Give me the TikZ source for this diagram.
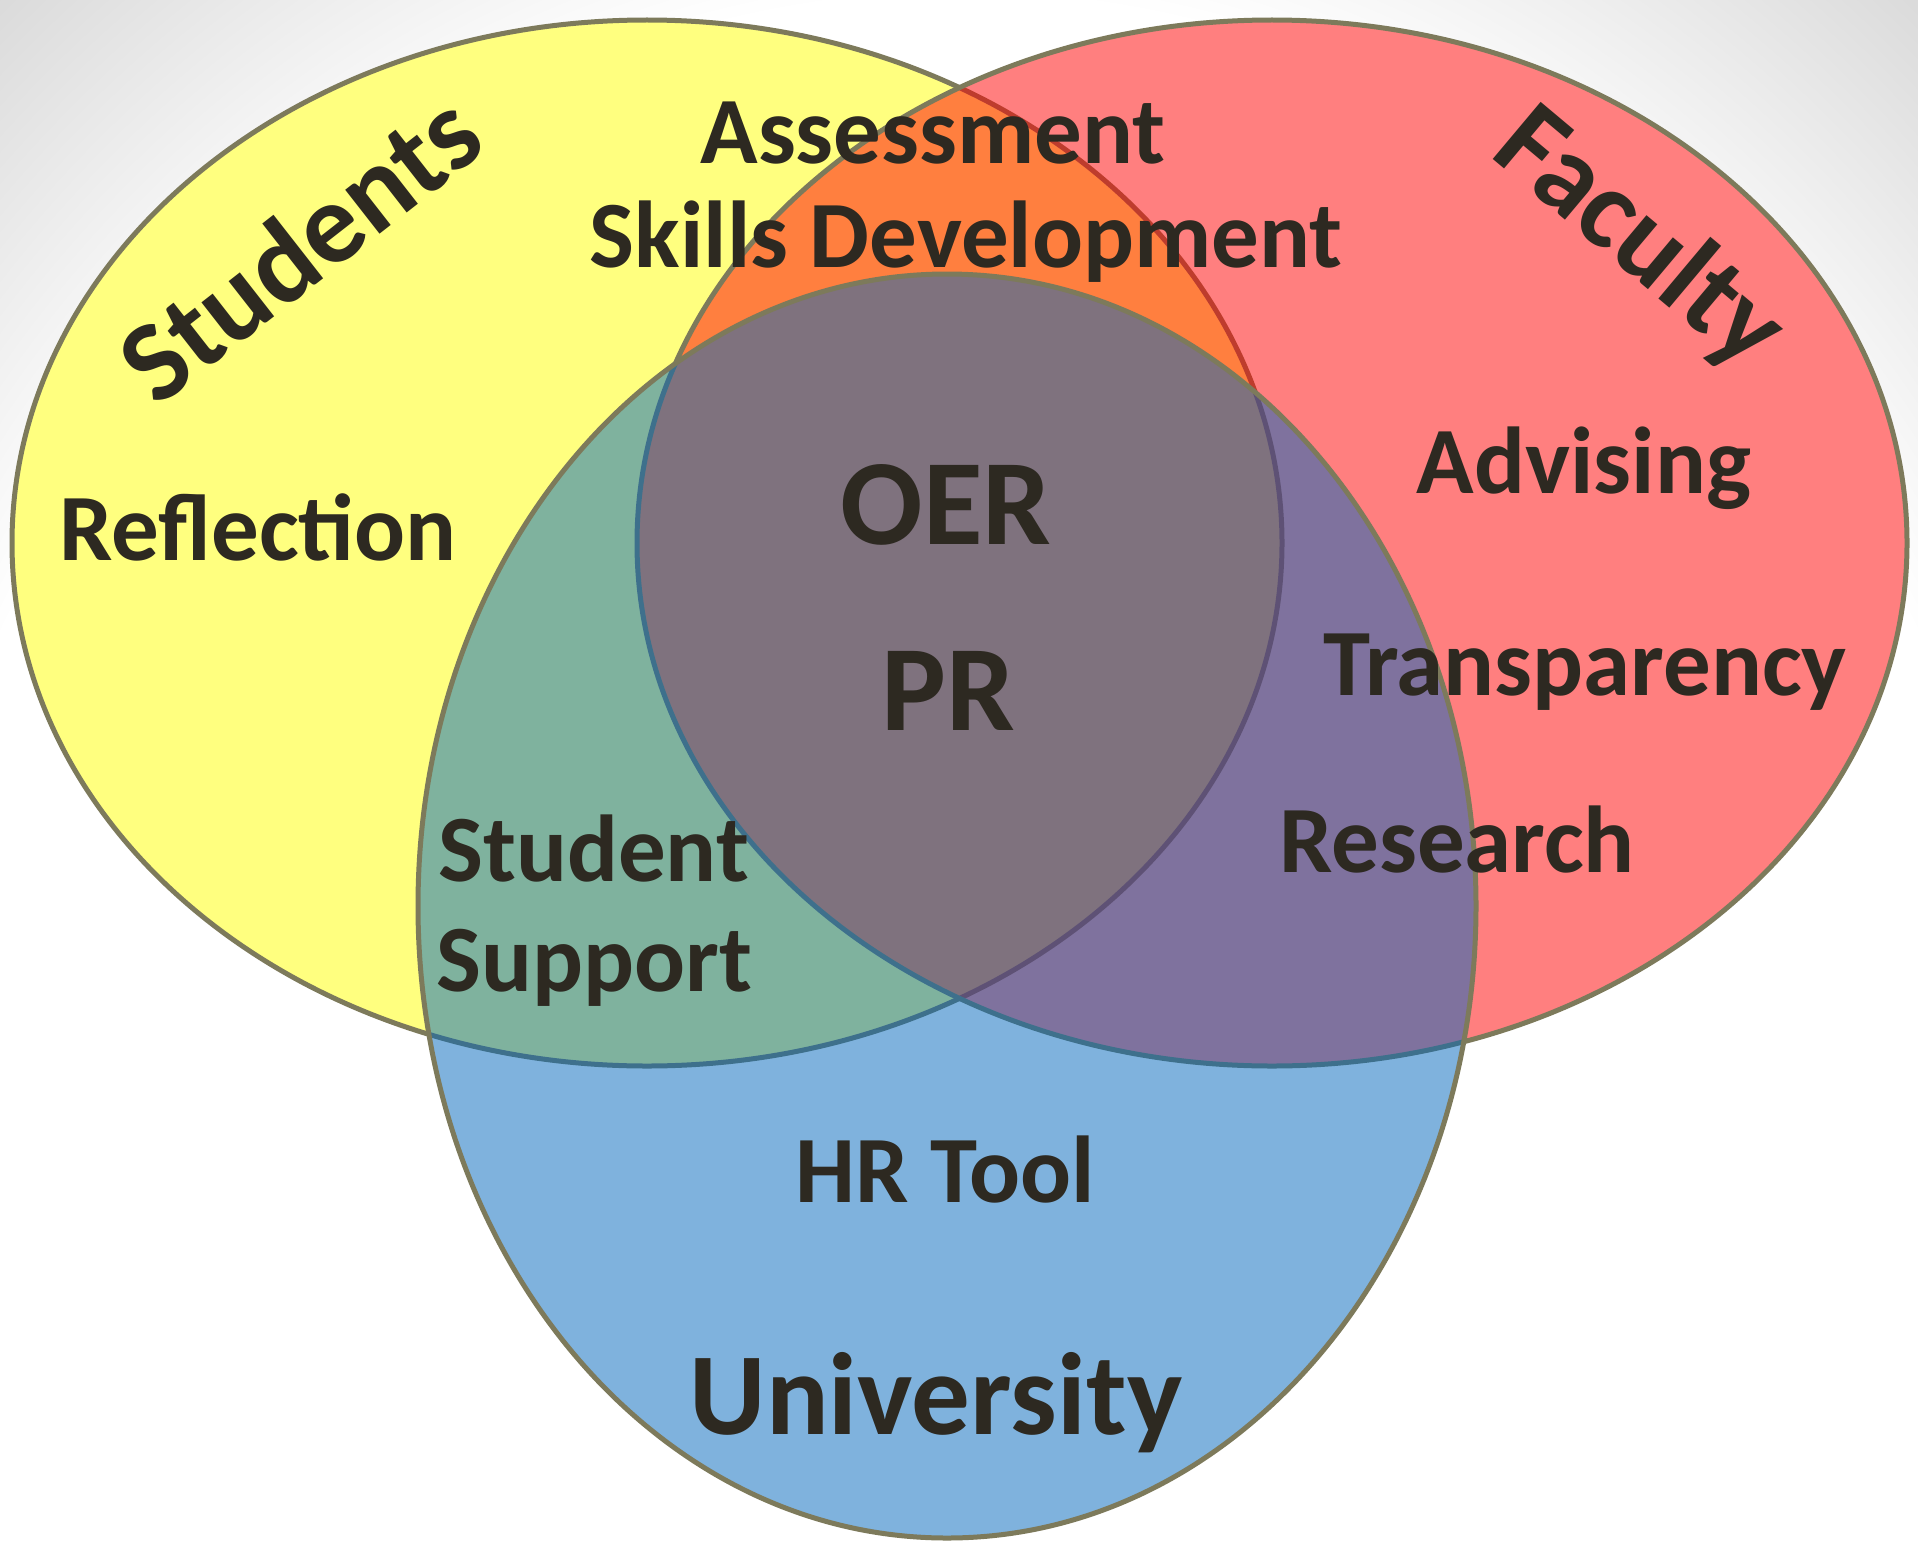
\documentclass[tikz,border=0pt]{standalone}
\usepackage{fontspec}
\setmainfont{Carlito}
\definecolor{edge}{HTML}{7D7A5B}
\definecolor{txt}{HTML}{2D2921}
\definecolor{cyel}{HTML}{FFFF00}
\definecolor{cred}{HTML}{FF0000}
\definecolor{cblu}{HTML}{0067BD}
\pgfdeclareradialshading{vig}{\pgfpoint{0bp}{0bp}}{color(0bp)=(white); color(21.5bp)=(white); color(29bp)=(black!15); color(50bp)=(black!15)}
\begin{document}
\begin{tikzpicture}[x=1pt,y=-1pt,
  lbl/.style={font=\fontsize{95}{95}\selectfont\bfseries, text=txt, inner sep=0pt, anchor=base},
  big/.style={font=\fontsize{122}{122}\selectfont\bfseries, text=txt, inner sep=0pt, anchor=base},
  title/.style={font=\fontsize{115}{115}\selectfont\bfseries, text=txt, inner sep=0pt, anchor=center},
  set/.style={line width=5pt, draw=edge, fill opacity=0.5}]
\useasboundingbox (0,0) rectangle (1918,1544);
\begin{scope}
  \clip (0,0) rectangle (1918,1544);
  \shade[shading=vig] (-300,-200) rectangle (2218,2600);
\end{scope}
% white ground under the sets
\fill[white] (647,543) ellipse [x radius=635pt, y radius=523pt];
\fill[white] (1272,543) ellipse [x radius=635pt, y radius=523pt];
\fill[white] (947,906) ellipse [x radius=529pt, y radius=632pt];
% sets
\path[set, fill=cyel] (647,543) ellipse [x radius=635pt, y radius=523pt];
\path[set, fill=cred] (1272,543) ellipse [x radius=635pt, y radius=523pt];
\path[set, fill=cblu] (947,906) ellipse [x radius=529pt, y radius=632pt];
% labels
\node[title, rotate=38] (students) at (299,247) {Students};
\node[title, rotate=-40] (faculty) at (1638,240) {Faculty};
\node[lbl] (assess) at (933,163) {Assessment};
\node[lbl] (skills) at (966,267) {Skills Development};
\node[lbl] (refl) at (258,560) {Reflection};
\node[big] (oer) at (946,544) {OER};
\node[big] (pr) at (948,730) {PR};
\node[lbl] (adv) at (1584,493) {Advising};
\node[lbl] (trans) at (1585,695) {Transparency};
\node[lbl] (res) at (1457,872) {Research};
\node[lbl, anchor=base west] (stud) at (438,881) {Student};
\node[lbl, anchor=base west] (supp) at (436,991) {Support};
\node[lbl] (hr) at (945,1202) {HR Tool};
\node[big, font=\fontsize{117}{117}\selectfont\bfseries] (uni) at (936,1434) {University};
\end{tikzpicture}
\end{document}
